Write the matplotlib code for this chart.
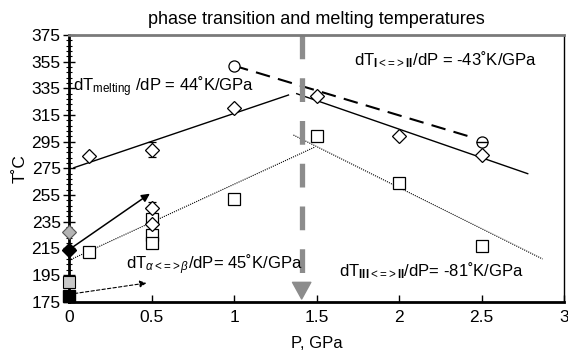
import numpy as np
import matplotlib
matplotlib.use('Agg')
import matplotlib.pyplot as plt
from matplotlib.ticker import FixedLocator

plt.rcParams['font.family'] = ['Liberation Sans', 'DejaVu Sans']
plt.rcParams['mathtext.fontset'] = 'custom'
plt.rcParams['mathtext.rm'] = 'Liberation Sans'
plt.rcParams['mathtext.it'] = 'Liberation Sans:italic'
plt.rcParams['mathtext.bf'] = 'Liberation Sans:bold'

# melting points (open diamonds)
melt_p = [0.12, 0.5, 1.0, 1.5, 2.0, 2.5]
melt_t = [284, 289, 320, 329, 299, 285]
melt_err = [0, 5.5, 0, 0, 0, 0]
# other diamonds at 0.5 GPa
dia2_p = [0.5, 0.5]
dia2_t = [245, 233]
# I<=>II transitions (open circles)
circ_p = [1.0, 2.5]
circ_t = [352, 295]
# III<=>II transitions (open squares)
sq_p = [0.12, 0.5, 0.5, 0.5, 1.0, 1.5, 2.0, 2.5]
sq_t = [212, 237, 225, 219, 252, 299, 264, 217]
# ambient pressure markers
amb_gray_dia = 227
amb_black_dia = 214
amb_gray_sq = 190
amb_black_sq = 179

# fitted lines
melt_left_p = [0.03, 1.33]
melt_left_t = [275.5, 330]
melt_right_p = [1.38, 2.78]
melt_right_t = [331, 271]
dash_p = [1.0, 2.45]
dash_t = [352, 298]
dot_left_p = [0.0, 1.49]
dot_left_t = [206, 291]
dot_right_p = [1.36, 2.87]
dot_right_t = [300, 207]

fig = plt.figure(figsize=(5.68, 3.52), dpi=100)
ax = fig.add_axes([0.1215, 0.143, 0.8715, 0.7575])

ax.plot(melt_left_p, melt_left_t, color='black', lw=1)
ax.plot(melt_right_p, melt_right_t, color='black', lw=1)
ax.plot(dash_p, dash_t, color='black', lw=1.5, dashes=(7, 4))
ax.plot(dot_left_p, dot_left_t, color='black', lw=0.8, ls=(0, (1, 1)))
ax.plot(dot_right_p, dot_right_t, color='black', lw=0.8, ls=(0, (1, 1)))

# arrows from ambient points
ax.annotate('', xy=(0.49, 256), xytext=(0.0, 214),
            arrowprops=dict(arrowstyle='-|>', color='black', lw=1.1,
                            mutation_scale=12, shrinkA=0, shrinkB=0))
ax.annotate('', xy=(0.47, 189), xytext=(0.0, 180.5),
            arrowprops=dict(arrowstyle='-|>', color='black', lw=0.8,
                            linestyle=(0, (3, 2)), mutation_scale=10,
                            shrinkA=0, shrinkB=0))

# gray vertical arrow
ax.plot([1.41, 1.41], [375, 190], color='#8c8c8c', lw=3.8, dashes=(4.5, 3.6),
        solid_capstyle='butt', dash_capstyle='butt')
ax.annotate('', xy=(1.41, 177), xytext=(1.41, 189),
            arrowprops=dict(arrowstyle='simple,head_width=1.1,head_length=1.0,tail_width=0.45',
                            color='#8c8c8c', shrinkA=0, shrinkB=0, mutation_scale=12))

ax.errorbar(melt_p, melt_t, yerr=melt_err, fmt='D', mfc='white', mec='black',
            ms=7, mew=0.9, ecolor='black', elinewidth=0.9, capsize=3, zorder=5)
ax.errorbar(dia2_p, dia2_t, yerr=[[0, 4], [4.5, 0]], fmt='D', mfc='white',
            mec='black', ms=7, mew=0.9, ecolor='black', elinewidth=0.9,
            capsize=3, zorder=5)
ax.plot(circ_p, circ_t, 'o', mfc='white', mec='black', ms=8, mew=0.9, zorder=5)
ax.plot(circ_p[1], circ_t[1], marker='_', ms=8, mew=1, color='black', zorder=7)
ax.plot(sq_p, sq_t, 's', mfc='white', mec='black', ms=8, mew=0.9, zorder=5)

ax.plot(0, amb_gray_dia, 'D', mfc='#b4b4b4', mec='#555555', ms=7, mew=0.8,
        zorder=6, clip_on=False)
ax.plot(0, amb_black_dia, 'D', mfc='black', mec='black', ms=7, zorder=6,
        clip_on=False)
ax.plot(0, amb_gray_sq, 's', mfc='#c8c8c8', mec='black', ms=9, mew=0.8,
        zorder=6, clip_on=False)
ax.plot(0, amb_black_sq, 's', mfc='black', mec='black', ms=9, zorder=6,
        clip_on=False)

arr = r'\mathrm{<\!=\!>}'
ax.text(0.022, 333, r'dT$_{\mathrm{melting}}$ /dP = 44˚K/GPa', fontsize=12)
ax.text(1.727, 352.5, r'dT$_{\mathbf{I}' + arr + r'\mathbf{II}}$/dP = -43˚K/GPa',
        fontsize=12)
ax.text(0.345, 199.5, r'dT$_{\alpha' + arr + r'\beta}$/dP= 45˚K/GPa', fontsize=12)
ax.text(1.634, 194.3, r'dT$_{\mathbf{III}' + arr + r'\mathbf{II}}$/dP= -81˚K/GPa',
        fontsize=12)

ax.set_xlim(0, 3)
ax.set_ylim(175, 375)
ax.set_xticks([0, 0.5, 1, 1.5, 2, 2.5, 3])
ax.set_xticklabels(['0', '0.5', '1', '1.5', '2', '2.5', '3'])
ax.set_yticks(np.arange(175, 376, 20))
ax.yaxis.set_minor_locator(FixedLocator(np.arange(175, 376, 4)))
ax.tick_params(axis='x', direction='in', length=5, width=1, labelsize=12.5, pad=6)
ax.tick_params(axis='y', which='major', direction='inout', length=8, width=1,
               labelsize=12.5, pad=2)
ax.tick_params(axis='y', which='minor', direction='inout', length=5, width=0.8)

for side in ['left', 'bottom']:
    ax.spines[side].set_linewidth(2)
    ax.spines[side].set_color('black')
ax.spines['top'].set_color('#7a7a7a')
ax.spines['top'].set_linewidth(2)
ax.spines['right'].set_linewidth(1)

ax.set_title('phase transition and melting temperatures', fontsize=13, pad=8)
ax.set_xlabel('P, GPa', fontsize=12, labelpad=8)
ax.set_ylabel('T˚C', fontsize=12.5, labelpad=3)

fig.savefig('out.png', dpi=100)
